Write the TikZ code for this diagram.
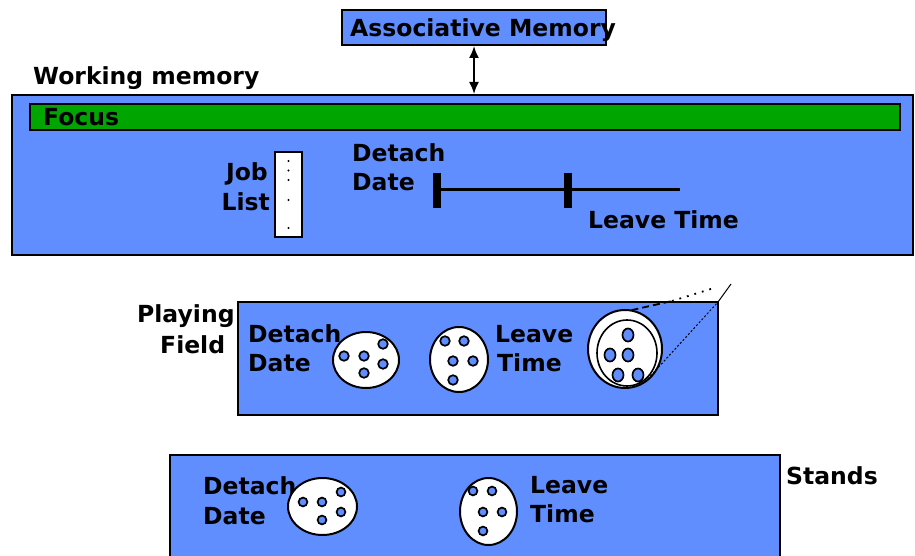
\documentclass[tikz,border=0pt]{standalone}
\usepackage{fontspec}
\setmainfont{DejaVu Sans}
\usetikzlibrary{shapes.geometric,arrows.meta}
\definecolor{panel}{RGB}{96,142,255}
\definecolor{focusgreen}{RGB}{0,165,0}
\tikzset{
  panelbox/.style={draw=black, line width=2pt, fill=panel, rectangle, inner sep=0pt},
  lbl/.style={inner sep=0pt, anchor=base west, font=\fontsize{23.5}{26}\selectfont\bfseries},
  lble/.style={inner sep=0pt, anchor=base east, font=\fontsize{23.5}{26}\selectfont\bfseries},
  disc/.style={ellipse, draw=black, line width=2pt, fill=white, inner sep=0pt},
  hole/.style={draw=black, line width=1.7pt, fill=panel},
  tick/.style={line width=8pt},
  axis/.style={line width=3pt},
}
\begin{document}
\begin{tikzpicture}[x=1pt,y=-1pt]
\clip (0,0) rectangle (915,556);
\fill[white] (0,0) rectangle (915,556);

% Associative memory
\node[panelbox, minimum width=264pt, minimum height=35pt] (am) at (474,27.5) {};
\node[lbl] (amt) at (350,37) {Associative Memory};

% Working memory
\node[lbl] (wmt) at (33,85) {Working memory};
\node[panelbox, minimum width=901pt, minimum height=160pt] (wm) at (462.5,175) {};
\draw[{Latex[length=12pt,width=10pt]}-{Latex[length=12pt,width=10pt]}, line width=1.8pt]
  (am.south) -- (am.south |- wm.north);

\node[draw=black, line width=1.4pt, fill=focusgreen, rectangle, inner sep=0pt,
      minimum width=870pt, minimum height=26pt] (focus) at (465,117) {};
\node[lbl] (focust) at (43,126) {Focus};

% Job list
\node[lble] (job) at (268,181) {Job};
\node[lble] (list) at (270,211) {List};
\node[draw=black, line width=1.6pt, fill=white, rectangle, inner sep=0pt,
      minimum width=27pt, minimum height=85pt] (joblist) at (288.5,194.5) {};
\foreach \yy in {161,170.5,180,200,228}
  \fill (288.5,\yy) circle (1.1);

% timeline
\node[lbl] (dd1) at (352,162) {Detach};
\node[lbl] (dd2) at (352,191) {Date};
\coordinate (t0) at (437,190);
\coordinate (t1) at (568,190);
\coordinate (t2) at (680,190);
\draw[axis] (t0) -- (t2);
\draw[tick] (437,173) -- (437,208);
\draw[tick] (568,173) -- (568,208);
\node[lbl] (lt) at (588,229) {Leave Time};

% Playing field
\node[lbl] (pf1) at (137,322) {Playing};
\node[lbl] (pf2) at (160,353) {Field};
\node[panelbox, minimum width=480pt, minimum height=113pt] (pf) at (478,358.5) {};
\node[lbl] (pfd1) at (248,342) {Detach};
\node[lbl] (pfd2) at (248,371) {Date};
\node[lbl] (pfl1) at (495,342) {Leave};
\node[lbl] (pfl2) at (497,371) {Time};

\node[disc, minimum width=66pt, minimum height=56pt] (pe1) at (366,360) {};
\foreach \x/\y in {344/356,364/356,383/344,383/364,364/373}
  \draw[hole] (\x,\y) circle (4.8);
\node[disc, minimum width=58pt, minimum height=65pt] (pe2) at (459,359.5) {};
\foreach \x/\y in {445/341,464/341,453/361,473/361,453/380}
  \draw[hole] (\x,\y) circle (4.8);

% button
\coordinate (d0) at (610,315);
\coordinate (d1) at (672,301);
\coordinate (d2) at (714,288);
\draw[line width=1.8pt, dash pattern=on 7pt off 4pt] (d0) -- (d1);
\draw[line width=1.8pt, dash pattern=on 1.8pt off 6pt] (d1) -- (d2);
\node[disc, minimum width=74pt, minimum height=78pt] (bt) at (625,349) {};
\node[disc, line width=1.6pt, minimum width=60pt, minimum height=66pt] (bti) at (627,353) {};
\foreach \x/\y in {628/335,610/355,628/355,618/375,638/375}
  \draw[hole] (\x,\y) ellipse (5.5 and 6.5);
\coordinate (s0) at (645,382);
\coordinate (s1) at (718,302);
\coordinate (s2) at (731,284);
\draw[line width=1pt, dash pattern=on 2pt off 2pt] (s0) -- (s1);
\draw[line width=1pt] (s1) -- (s2);

% Stands
\node[panelbox, minimum width=610pt, minimum height=150pt] (st) at (475,530) {};
\node[lbl] (stt) at (786,484) {Stands};
\node[lbl] (sd1) at (203,494) {Detach};
\node[lbl] (sd2) at (203,524) {Date};
\node[lbl] (sl1) at (530,493) {Leave};
\node[lbl] (sl2) at (530,522) {Time};

\node[disc, minimum width=69pt, minimum height=57pt] (se1) at (322.5,506.5) {};
\foreach \x/\y in {303/502,322/502,341/492,341/512,322/520}
  \draw[hole] (\x,\y) circle (4.4);
\node[disc, minimum width=57pt, minimum height=67pt] (se2) at (488.5,511.5) {};
\foreach \x/\y in {473/491,492/491,483/512,502/512,483/531}
  \draw[hole] (\x,\y) circle (4.4);
\end{tikzpicture}
\end{document}
